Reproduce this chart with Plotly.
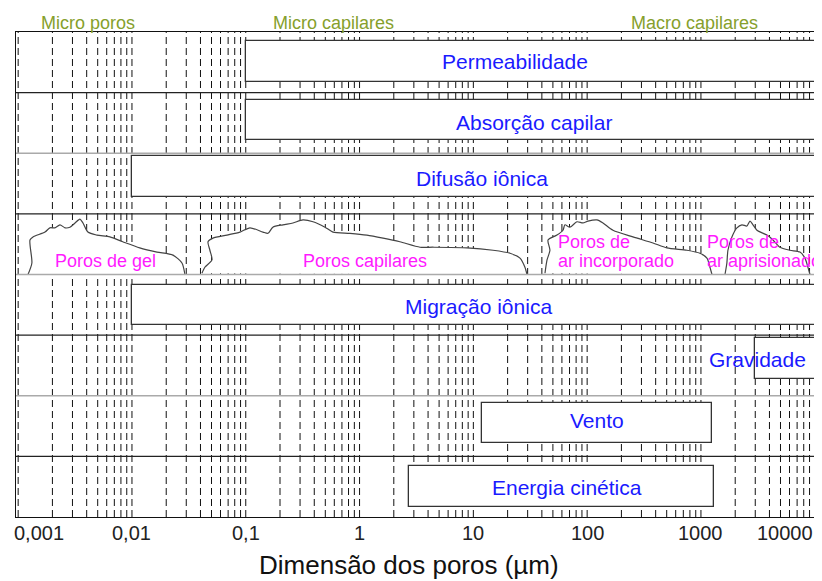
import math
import plotly.graph_objects as go

# ---------------- data ----------------
# mechanisms (horizontal boxes): label, start (um), end (um), row centre
mech_labels = ["Permeabilidade", "Absorção capilar", "Difusão iônica", "Migração iônica",
               "Gravidade", "Vento", "Energia cinética"]
mech_start = [0.1, 0.1, 0.01, 0.01, 3000, 12, 2.7]
mech_end = [20000, 20000, 20000, 20000, 20000, 1250, 1300]
mech_row = [7.51, 6.55, 5.62, 3.5, 2.61, 1.55, 0.5]
mech_label_x = [23.2, 34, 11.9, 11.2, 3170, 122, 66.4]
mech_label_y = [7.51, 6.5, 5.59, 3.48, 2.59, 1.6, 0.48]

# pore families (cloud outlines), x in um, y in row units
gel_x = [0.00122, 0.00132, 0.00127, 0.00135, 0.00172, 0.0019, 0.0021, 0.00233, 0.00258,
         0.00285, 0.00316, 0.00349, 0.00371, 0.0041, 0.00492, 0.0064, 0.0083, 0.0117,
         0.0166, 0.0229, 0.0275, 0.0292]
gel_y = [4.0, 4.19, 4.57, 4.62, 4.70, 4.77, 4.77, 4.82, 4.77, 4.78, 4.85, 4.915, 4.85,
         4.70, 4.65, 4.62, 4.54, 4.44, 4.37, 4.32, 4.19, 4.0]
cap_x = [0.0412, 0.0437, 0.0505, 0.0484, 0.0466, 0.0515, 0.0684, 0.0889, 0.1089, 0.1416,
         0.157, 0.173, 0.212, 0.260, 0.318, 0.390, 0.497, 0.584, 0.824, 1.16, 1.61, 2.26,
         3.40, 4.42, 8.79, 14.9, 21.0, 25.7, 28.4, 29.6]
cap_y = [4.02, 4.12, 4.24, 4.40, 4.54, 4.60, 4.65, 4.70, 4.77, 4.70, 4.68, 4.78, 4.82,
         4.85, 4.90, 4.87, 4.78, 4.70, 4.68, 4.65, 4.60, 4.54, 4.45, 4.45, 4.44, 4.40,
         4.35, 4.27, 4.12, 4.0]
inc_x = [42.6, 44.4, 47.1, 45.3, 54.3, 61.3, 63.8, 70.6, 81.3, 91.8, 101.6, 121.9, 137.7,
         168.6, 252.5, 378.6, 502, 753, 980, 1129, 1200, 1250]
inc_y = [4.02, 4.24, 4.40, 4.57, 4.65, 4.73, 4.82, 4.78, 4.87, 4.85, 4.88, 4.90, 4.85,
         4.73, 4.62, 4.52, 4.44, 4.40, 4.35, 4.27, 4.12, 4.0]
apr_x = [1626, 1690, 1726, 1871, 2070, 2291, 2535, 2698, 2864, 3105, 3802, 4295, 4943,
         6053, 7413, 8203, 8710, 9078]
apr_y = [4.0, 4.19, 4.40, 4.62, 4.77, 4.82, 4.80, 4.88, 4.82, 4.73, 4.65, 4.57, 4.45,
         4.40, 4.37, 4.27, 4.12, 4.0]

pore_labels = [["Poros de gel"], ["Poros capilares"], ["Poros de", "ar incorporado"],
               ["Poros de", "ar aprisionado"]]
pore_label_x = [0.0059, 1.11, 55.4, 1129]
pore_label_anchor = ["center", "center", "left", "left"]

region_labels = ["Micro poros", "Micro capilares", "Macro capilares"]
region_x = [0.00415, 0.596, 885]

tick_vals = [0.001, 0.01, 0.1, 1, 10, 100, 1000, 10000]
tick_text = ["0,001", "0,01", "0,1", "1", "10", "100", "1000", "10000"]

row_lines = [1, 2, 3, 4, 5, 6, 7]
row_line_colors = ["#222", "#aaa", "#222", "#aaa", "#222", "#aaa", "#222"]

x_title = "Dimensão dos poros (\u00b5m)"

# ---------------- figure ----------------
FONT = "Liberation Sans, Arial, sans-serif"
BLUE = "#1a1aff"
PINK = "#ff1aff"
OLIVE = "#86a02c"


def lx(v):
    # annotation positions on a log axis are given in log10 units
    return math.log10(v)


fig = go.Figure()

# mechanism boxes
fig.add_trace(go.Bar(
    orientation="h",
    y=mech_row,
    base=mech_start,
    x=[e - s for s, e in zip(mech_start, mech_end)],
    width=0.67,
    marker=dict(color="white", line=dict(color="#333", width=1.3)),
    hoverinfo="skip", showlegend=False,
))

# pore clouds
for xs, ys in [(gel_x, gel_y), (cap_x, cap_y), (inc_x, inc_y), (apr_x, apr_y)]:
    fig.add_trace(go.Scatter(
        x=xs, y=ys, mode="lines", fill="toself", fillcolor="white",
        line=dict(color="#444", width=1.2, shape="spline", smoothing=0.7),
        hoverinfo="skip", showlegend=False,
    ))

shapes = []
# vertical dashed grid lines (decades and sub-decades)
for n in range(-3, 5):
    for k in range(1, 10):
        v = k * 10 ** n
        if v > 10000:
            break
        shapes.append(dict(type="line", xref="x", yref="y", x0=v, x1=v, y0=0, y1=8,
                           layer="below", line=dict(color="#111", width=1, dash="7px,4px")))
# row separators
for yv, c in zip(row_lines, row_line_colors):
    shapes.append(dict(type="line", xref="paper", yref="y", x0=0, x1=1, y0=yv, y1=yv,
                       layer="above", line=dict(color=c, width=1.3)))

annotations = []
for t, x, y in zip(mech_labels, mech_label_x, mech_label_y):
    annotations.append(dict(x=lx(x), y=y, xref="x", yref="y", text=t, showarrow=False,
                            font=dict(family=FONT, size=21, color=BLUE)))
for lines, x, anc in zip(pore_labels, pore_label_x, pore_label_anchor):
    if len(lines) == 1:
        annotations.append(dict(x=lx(x), y=4.0, xref="x", yref="y", text=lines[0],
                                showarrow=False, xanchor=anc, yshift=14,
                                font=dict(family=FONT, size=18, color=PINK)))
    else:
        for i, t in enumerate(lines):
            annotations.append(dict(x=lx(x), y=4.0, xref="x", yref="y", text=t,
                                    showarrow=False, xanchor=anc, xshift=-2,
                                    yshift=33 - 19 * i,
                                    font=dict(family=FONT, size=18, color=PINK)))
for t, x in zip(region_labels, region_x):
    annotations.append(dict(x=lx(x), y=1, xref="x", yref="paper", text=t, showarrow=False,
                            yanchor="middle", yshift=9,
                            font=dict(family=FONT, size=18, color=OLIVE)))
for i, (v, t) in enumerate(zip(tick_vals, tick_text)):
    anc = "left" if i == 0 else ("right" if i == len(tick_vals) - 1 else "center")
    annotations.append(dict(x=lx(v), y=0, xref="x", yref="paper", text=t, showarrow=False,
                            xanchor=anc, xshift=-6 if i == 0 else 0,
                            yanchor="middle", yshift=-16,
                            font=dict(family=FONT, size=20, color="#222")))
annotations.append(dict(x=0.491, y=0, xref="paper", yref="paper", text=x_title,
                        showarrow=False, yanchor="middle", yshift=-48,
                        font=dict(family=FONT, size=26, color="#111")))

# the page body adds an 8 px offset, so the figure is sized and margined to compensate
fig.update_layout(
    width=814, height=573,
    margin=dict(l=8, r=6, t=24, b=64),
    paper_bgcolor="white", plot_bgcolor="white",
    bargap=0,
    shapes=shapes, annotations=annotations,
    font=dict(family=FONT),
    xaxis=dict(type="log", range=[-3.019, 4.011], showgrid=False, zeroline=False,
               showticklabels=False, ticks="", showline=True, mirror=True,
               linecolor="#111", linewidth=1.3),
    yaxis=dict(range=[0, 8], showgrid=False, zeroline=False, showticklabels=False,
               ticks="", showline=True, mirror=True, linecolor="#111", linewidth=1.3),
)

fig.write_html("out.html")
